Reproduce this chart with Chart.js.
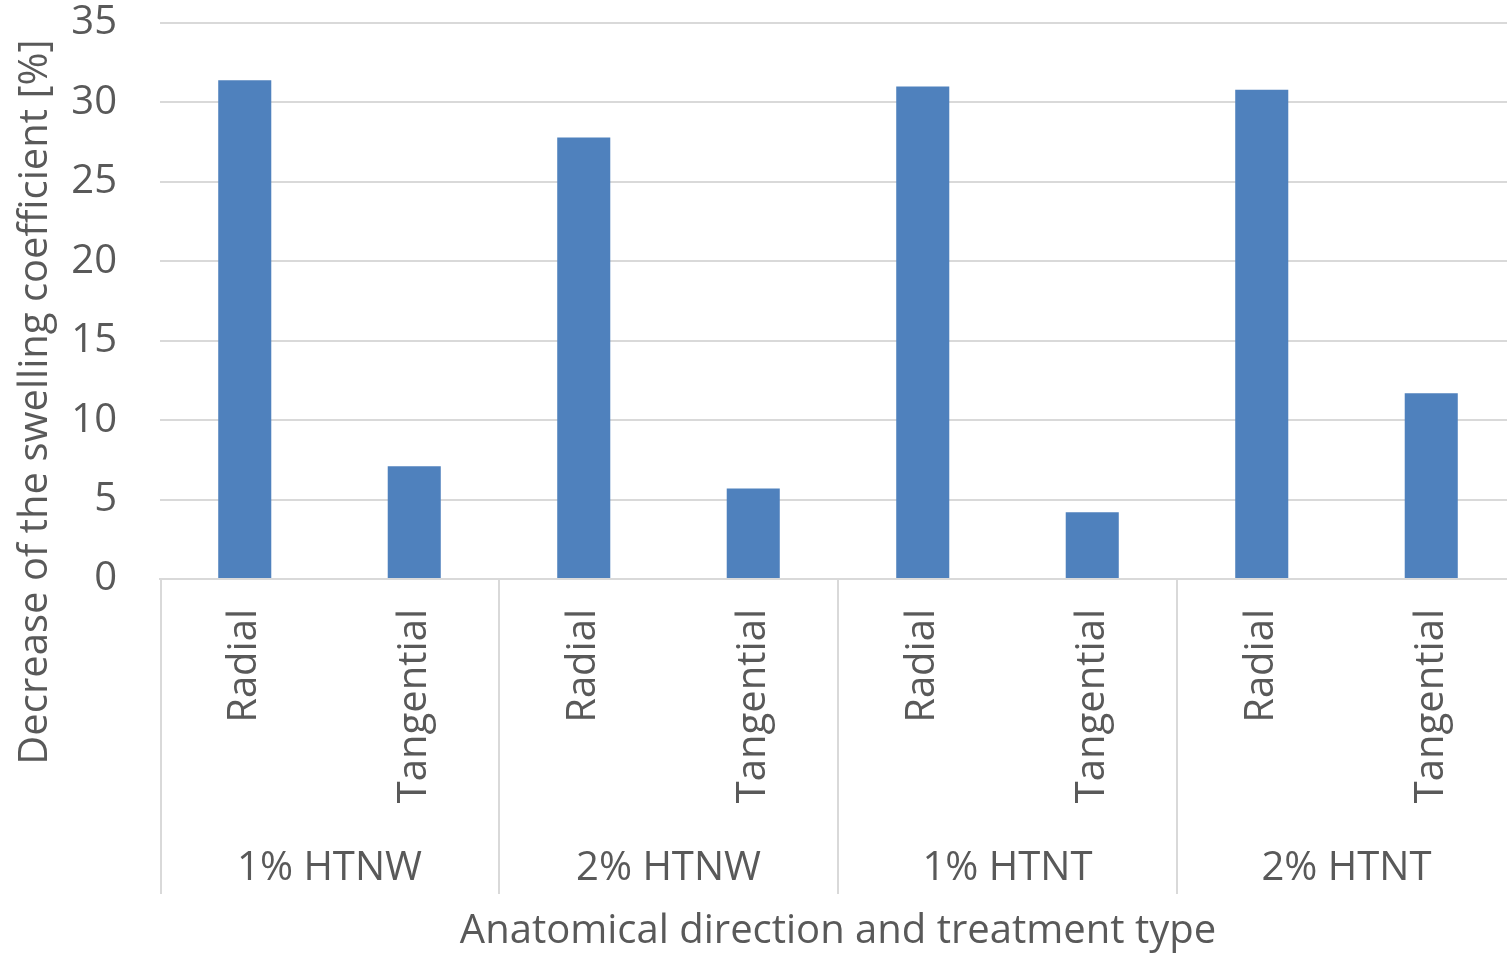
<!DOCTYPE html>
<html><head><meta charset="utf-8">
<script src="https://cdn.jsdelivr.net/npm/chart.js@4/dist/chart.umd.min.js"></script>
<style>html,body{margin:0;padding:0;background:#fff;overflow:hidden}#wrap{width:1507px;height:954px;position:relative;overflow:hidden}</style>
</head><body><div id="wrap"><canvas id="c" width="1516" height="954"></canvas></div>
<script>
const groups = ['1% HTNW', '2% HTNW', '1% HTNT', '2% HTNT'];
const categories = ['Radial', 'Tangential', 'Radial', 'Tangential', 'Radial', 'Tangential', 'Radial', 'Tangential'];
const values = [31.4, 7.1, 27.8, 5.7, 31.0, 4.2, 30.8, 11.7];
const yTicks = [0, 5, 10, 15, 20, 25, 30, 35];
const xTitle = 'Anatomical direction and treatment type';
const yTitle = 'Decrease of the swelling coefficient [%]';

const FONT = '"Open Sans", sans-serif';
const FS = 40;
const TEXT = '#595959';
const GRID = '#D9D9D9';

const groupPlugin = {
  id: 'groups',
  afterDraw(chart) {
    const ctx = chart.ctx, xs = chart.scales.x, area = chart.chartArea;
    const per = categories.length / groups.length;
    ctx.save();
    ctx.strokeStyle = GRID; ctx.lineWidth = 2;
    const bottom = area.bottom + 315;
    for (let g = 0; g < groups.length; g++) {
      let px;
      if (g === 0) px = xs.left + 1;
      else px = (xs.getPixelForValue(g * per - 1) + xs.getPixelForValue(g * per)) / 2;
      ctx.beginPath(); ctx.moveTo(px, area.bottom); ctx.lineTo(px, bottom); ctx.stroke();
    }
    ctx.fillStyle = TEXT;
    ctx.font = FS + 'px ' + FONT;
    ctx.textAlign = 'center'; ctx.textBaseline = 'middle';
    groups.forEach((g, i) => {
      const a = xs.getPixelForValue(i * per), b = xs.getPixelForValue(i * per + per - 1);
      ctx.fillText(g, (a + b) / 2, area.bottom + 290);
    });
    ctx.fillText(xTitle, (area.left + area.right) / 2, area.bottom + 353);
    ctx.translate(36, area.top + 379);
    ctx.rotate(-Math.PI / 2);
    ctx.fillText(yTitle, 0, 0);
    ctx.restore();
  }
};

new Chart(document.getElementById('c').getContext('2d'), {
  type: 'bar',
  data: {
    labels: categories,
    datasets: [{ data: values, backgroundColor: '#4F81BD', borderWidth: 0, barPercentage: 0.313, categoryPercentage: 1 }]
  },
  options: {
    responsive: false, animation: false, devicePixelRatio: 1,
    layout: { padding: { top: 0, left: 0, right: 0, bottom: 0 } },
    plugins: { legend: { display: false }, tooltip: { enabled: false } },
    scales: {
      x: {
        grid: { display: false, drawTicks: false },
        border: { display: true, color: GRID, width: 2 },
        ticks: { autoSkip: false, minRotation: 90, maxRotation: 90, padding: 30, color: TEXT, font: { family: FONT, size: FS } },
        afterFit(s) { s.height = 375; s.paddingLeft = 0; s.paddingRight = 0; }
      },
      y: {
        min: 0, max: 35,
        afterBuildTicks(s) { s.ticks = yTicks.map(v => ({ value: v })); },
        ticks: { padding: 43, color: TEXT, font: { family: FONT, size: FS } },
        grid: { color: GRID, lineWidth: 2, drawTicks: false },
        border: { display: false },
        afterFit(s) { s.width = 160; s.paddingTop = 23; s.paddingBottom = 0; }
      }
    }
  },
  plugins: [groupPlugin]
});
</script>
</body></html>
